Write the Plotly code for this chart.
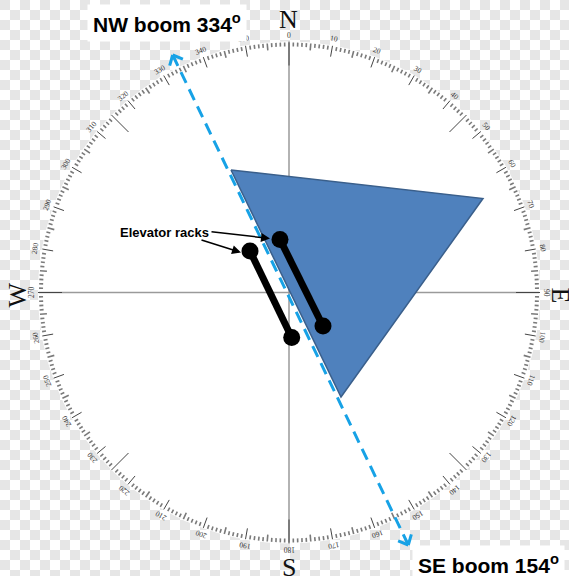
import numpy as np
import plotly.graph_objects as go

# ---- data (compass-centred coordinates, 1 unit = 1 px, y up) ----
R_COMPASS = 250
tri_x = [-58, 194, 52]
tri_y = [122.5, 94, -104.5]
rackA_x = [-9, 34]
rackA_y = [53, -33.5]
rackB_x = [-39, 2.7]
rackB_y = [41.5, -45]
boom_bearings = [334, 154]
boom_x = [-116.3, 119.3]
boom_y = [237.5, -252.5]
major_ticks = list(range(0, 360, 10))
major_labels = [str(a) for a in major_ticks]
cardinals = ["N", "E", "S", "W"]

W, H = 569, 576
CX, CY = 289, 292.5
CELL = 10

def polar(r, deg):
    t = np.radians(deg)
    return r * np.sin(t), r * np.cos(t)

fig = go.Figure()

# checkerboard background (transparency pattern) as square markers
cbx, cby = [], []
for i in range(W // CELL + 1):
    for j in range(H // CELL + 1):
        if (i + j) % 2 == 0:
            cbx.append(i * CELL + CELL / 2 - CX)
            cby.append(CY - (j * CELL + CELL / 2))
fig.add_trace(go.Scatter(x=cbx, y=cby, mode="markers",
                         marker=dict(symbol="square", size=CELL, color="#e6e6e6",
                                     line=dict(width=0)),
                         hoverinfo="skip", showlegend=False))

# white compass disk
th = np.linspace(0, 360, 721)
dx, dy = polar(R_COMPASS + 1, th)
fig.add_trace(go.Scatter(x=dx, y=dy, mode="lines", fill="toself", fillcolor="white",
                         line=dict(width=0, color="white"), hoverinfo="skip", showlegend=False))

# ticks
minor_x, minor_y, major_x, major_y = [], [], [], []
for d in range(360):
    if d % 45 == 0:
        r0, r1 = 227, 251
        tgt = (major_x, major_y)
    elif d % 10 == 0:
        r0, r1 = 239.5, 250.5
        tgt = (major_x, major_y)
    elif d % 5 == 0:
        r0, r1 = 243, 250
        tgt = (minor_x, minor_y)
    else:
        r0, r1 = 246, 250
        tgt = (minor_x, minor_y)
    x0, y0 = polar(r0, d)
    x1, y1 = polar(r1, d)
    tgt[0].extend([x0, x1, None])
    tgt[1].extend([y0, y1, None])

# cross lines
fig.add_trace(go.Scatter(x=[0, 0, None, -R_COMPASS, R_COMPASS],
                         y=[R_COMPASS, -R_COMPASS, None, 0, 0],
                         mode="lines", line=dict(color="#9a9a9a", width=1.5),
                         hoverinfo="skip", showlegend=False))
fig.add_trace(go.Scatter(x=minor_x, y=minor_y, mode="lines",
                         line=dict(color="#7a7a7a", width=1.6),
                         hoverinfo="skip", showlegend=False))
fig.add_trace(go.Scatter(x=major_x, y=major_y, mode="lines",
                         line=dict(color="#444444", width=1),
                         hoverinfo="skip", showlegend=False))

# triangle
fig.add_trace(go.Scatter(x=tri_x + [tri_x[0]], y=tri_y + [tri_y[0]],
                         mode="lines", fill="toself", fillcolor="#4f81bd",
                         line=dict(color="#3a5f8b", width=1.5),
                         hoverinfo="skip", showlegend=False))

# boom dashed line
BOOM_C = "#17a2e6"
fig.add_trace(go.Scatter(x=boom_x, y=boom_y, mode="lines",
                         line=dict(color=BOOM_C, width=3, dash="12px,7px"),
                         hoverinfo="skip", showlegend=False))
chev_x, chev_y = [], []
for bx, by, brg in zip(boom_x, boom_y, boom_bearings):
    for s in (-42, 42):
        ddx, ddy = polar(11, brg + 180 + s)
        chev_x.extend([bx + ddx, bx, None])
        chev_y.extend([by + ddy, by, None])
fig.add_trace(go.Scatter(x=chev_x, y=chev_y, mode="lines",
                         line=dict(color=BOOM_C, width=3),
                         hoverinfo="skip", showlegend=False))

# racks
for rx, ry in ((rackA_x, rackA_y), (rackB_x, rackB_y)):
    fig.add_trace(go.Scatter(x=rx, y=ry, mode="lines+markers",
                             line=dict(color="black", width=7),
                             marker=dict(color="black", size=17),
                             hoverinfo="skip", showlegend=False))

ann = []
# tick labels
for a, lab in zip(major_ticks, major_labels):
    x, y = polar(257.5, a)
    ang = a if a <= 180 else a - 360
    ann.append(dict(x=x, y=y, text=lab, showarrow=False, textangle=ang,
                    font=dict(family="Liberation Serif", size=7.5, color="#333333")))
# cardinals
card_pos = {"N": (-1, 273.5, 0), "E": (271, -3, 90), "S": (0, -274.5, 0), "W": (-272.5, -2.5, -90)}
for c in cardinals:
    x, y, ang = card_pos[c]
    ann.append(dict(x=x, y=y, text=c, showarrow=False, textangle=ang,
                    font=dict(family="Liberation Serif", size=26, color="#111111")))

# boom labels
ann.append(dict(x=-122, y=269.5, text=f"<b>NW boom {boom_bearings[0]}<sup>o</sup></b>",
                showarrow=False, bgcolor="white", borderpad=5,
                font=dict(family="Liberation Sans", size=21, color="black")))
ann.append(dict(x=199, y=-271.5, text=f"<b>SE boom {boom_bearings[1]}<sup>o</sup></b>",
                showarrow=False, bgcolor="white", borderpad=5,
                font=dict(family="Liberation Sans", size=21, color="black")))

# elevator racks label and arrows
ann.append(dict(x=-124.5, y=60, text="<b>Elevator racks</b>", showarrow=False,
                font=dict(family="Liberation Sans", size=13, color="black")))
for (tx, ty), (hx_, hy_) in (((-79, 61), (-19, 54)), ((-89, 53), (-48, 40))):
    ann.append(dict(x=hx_, y=hy_, ax=tx, ay=ty, xref="x", yref="y", axref="x", ayref="y",
                    text="", showarrow=True, arrowhead=2, arrowsize=1.2,
                    arrowwidth=1.5, arrowcolor="black", standoff=0))

fig.update_layout(
    width=W, height=H, margin=dict(l=0, r=0, t=0, b=0),
    paper_bgcolor="white", plot_bgcolor="white",
    xaxis=dict(range=[-CX, W - CX], visible=False, fixedrange=True),
    yaxis=dict(range=[CY - H, CY], visible=False, fixedrange=True),
    annotations=ann,
    showlegend=False,
)

fig.write_html("out.html", config={"displayModeBar": False, "staticPlot": True},
               post_script="document.body.style.margin='0';")
